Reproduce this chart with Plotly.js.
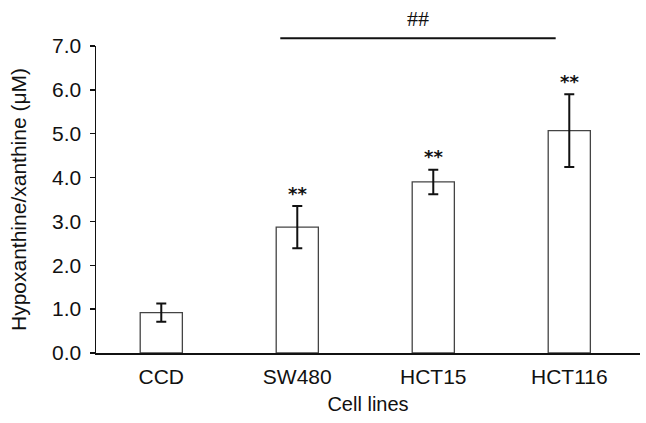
<!DOCTYPE html>
<html><head><meta charset="utf-8">
<script src="https://cdn.plot.ly/plotly-3.0.1.min.js"></script>
<style>html,body{margin:0;padding:0;background:#fff}#c{width:646px;height:423px}</style>
</head><body><div id="c"></div>
<script>
const categories = ["CCD", "SW480", "HCT15", "HCT116"];
const values = [0.92, 2.87, 3.90, 5.07];
const errors = [0.21, 0.48, 0.28, 0.83];
const stars = ["", "**", "**", "**"];
const yTicks = [0, 1, 2, 3, 4, 5, 6, 7];
const yTickText = yTicks.map(v => v.toFixed(1));

const xRange = [-0.48, 3.52];
const font = "Liberation Sans, Arial, sans-serif";

const trace = {
  type: "bar",
  x: categories.map((c, i) => i),
  y: values,
  width: 0.31,
  marker: {color: "#ffffff", line: {color: "#444", width: 1.3}},
  error_y: {type: "data", array: errors, visible: true, color: "#111", thickness: 2, width: 5},
  hoverinfo: "none"
};

const annotations = [];
values.forEach((v, i) => {
  if (stars[i]) annotations.push({
    x: i, y: v + errors[i], xref: "x", yref: "y", yshift: 13,
    text: "<b>" + stars[i] + "</b>", showarrow: false,
    font: {family: "DejaVu Sans, sans-serif", size: 18, color: "#111"}
  });
});
const toPaper = c => (c - xRange[0]) / (xRange[1] - xRange[0]);
annotations.push({x: (toPaper(0.875) + toPaper(2.9)) / 2, y: 1.09, xref: "paper", yref: "paper",
  xanchor: "center", yanchor: "middle",
  text: "##", showarrow: false, font: {family: "Liberation Serif, serif", size: 22, color: "#111"}});

const layout = {
  width: 646, height: 423,
  margin: {l: 96, r: 6, t: 46, b: 70},
  paper_bgcolor: "#fff", plot_bgcolor: "#fff",
  showlegend: false,
  font: {family: font, color: "#111"},
  xaxis: {
    range: xRange, tickvals: [0, 1, 2, 3], ticktext: categories,
    showgrid: false, zeroline: false, showline: true, linecolor: "#111", linewidth: 1.5,
    ticks: "", ticklabelstandoff: 4, tickfont: {family: font, size: 21, color: "#111"},
    title: {text: "Cell lines", font: {family: font, size: 20, color: "#111"}, standoff: 10}
  },
  yaxis: {
    range: [0, 7], tickvals: yTicks, ticktext: yTickText,
    showgrid: false, zeroline: false, showline: true, linecolor: "#111", linewidth: 1.5,
    ticks: "outside", ticklen: 5, tickwidth: 1.3, tickcolor: "#111",
    ticklabelstandoff: 4,
    tickfont: {family: font, size: 21, color: "#111"},
    title: {text: "Hypoxanthine/xanthine (μM)", font: {family: font, size: 21, color: "#111"}, standoff: 19}
  },
  shapes: [{
    type: "line", xref: "paper", yref: "paper",
    x0: toPaper(0.875), x1: toPaper(2.9), y0: 1.025, y1: 1.025,
    line: {color: "#111", width: 2}
  }],
  annotations: annotations
};

Plotly.newPlot("c", [trace], layout, {staticPlot: true, displayModeBar: false});
</script></body></html>
